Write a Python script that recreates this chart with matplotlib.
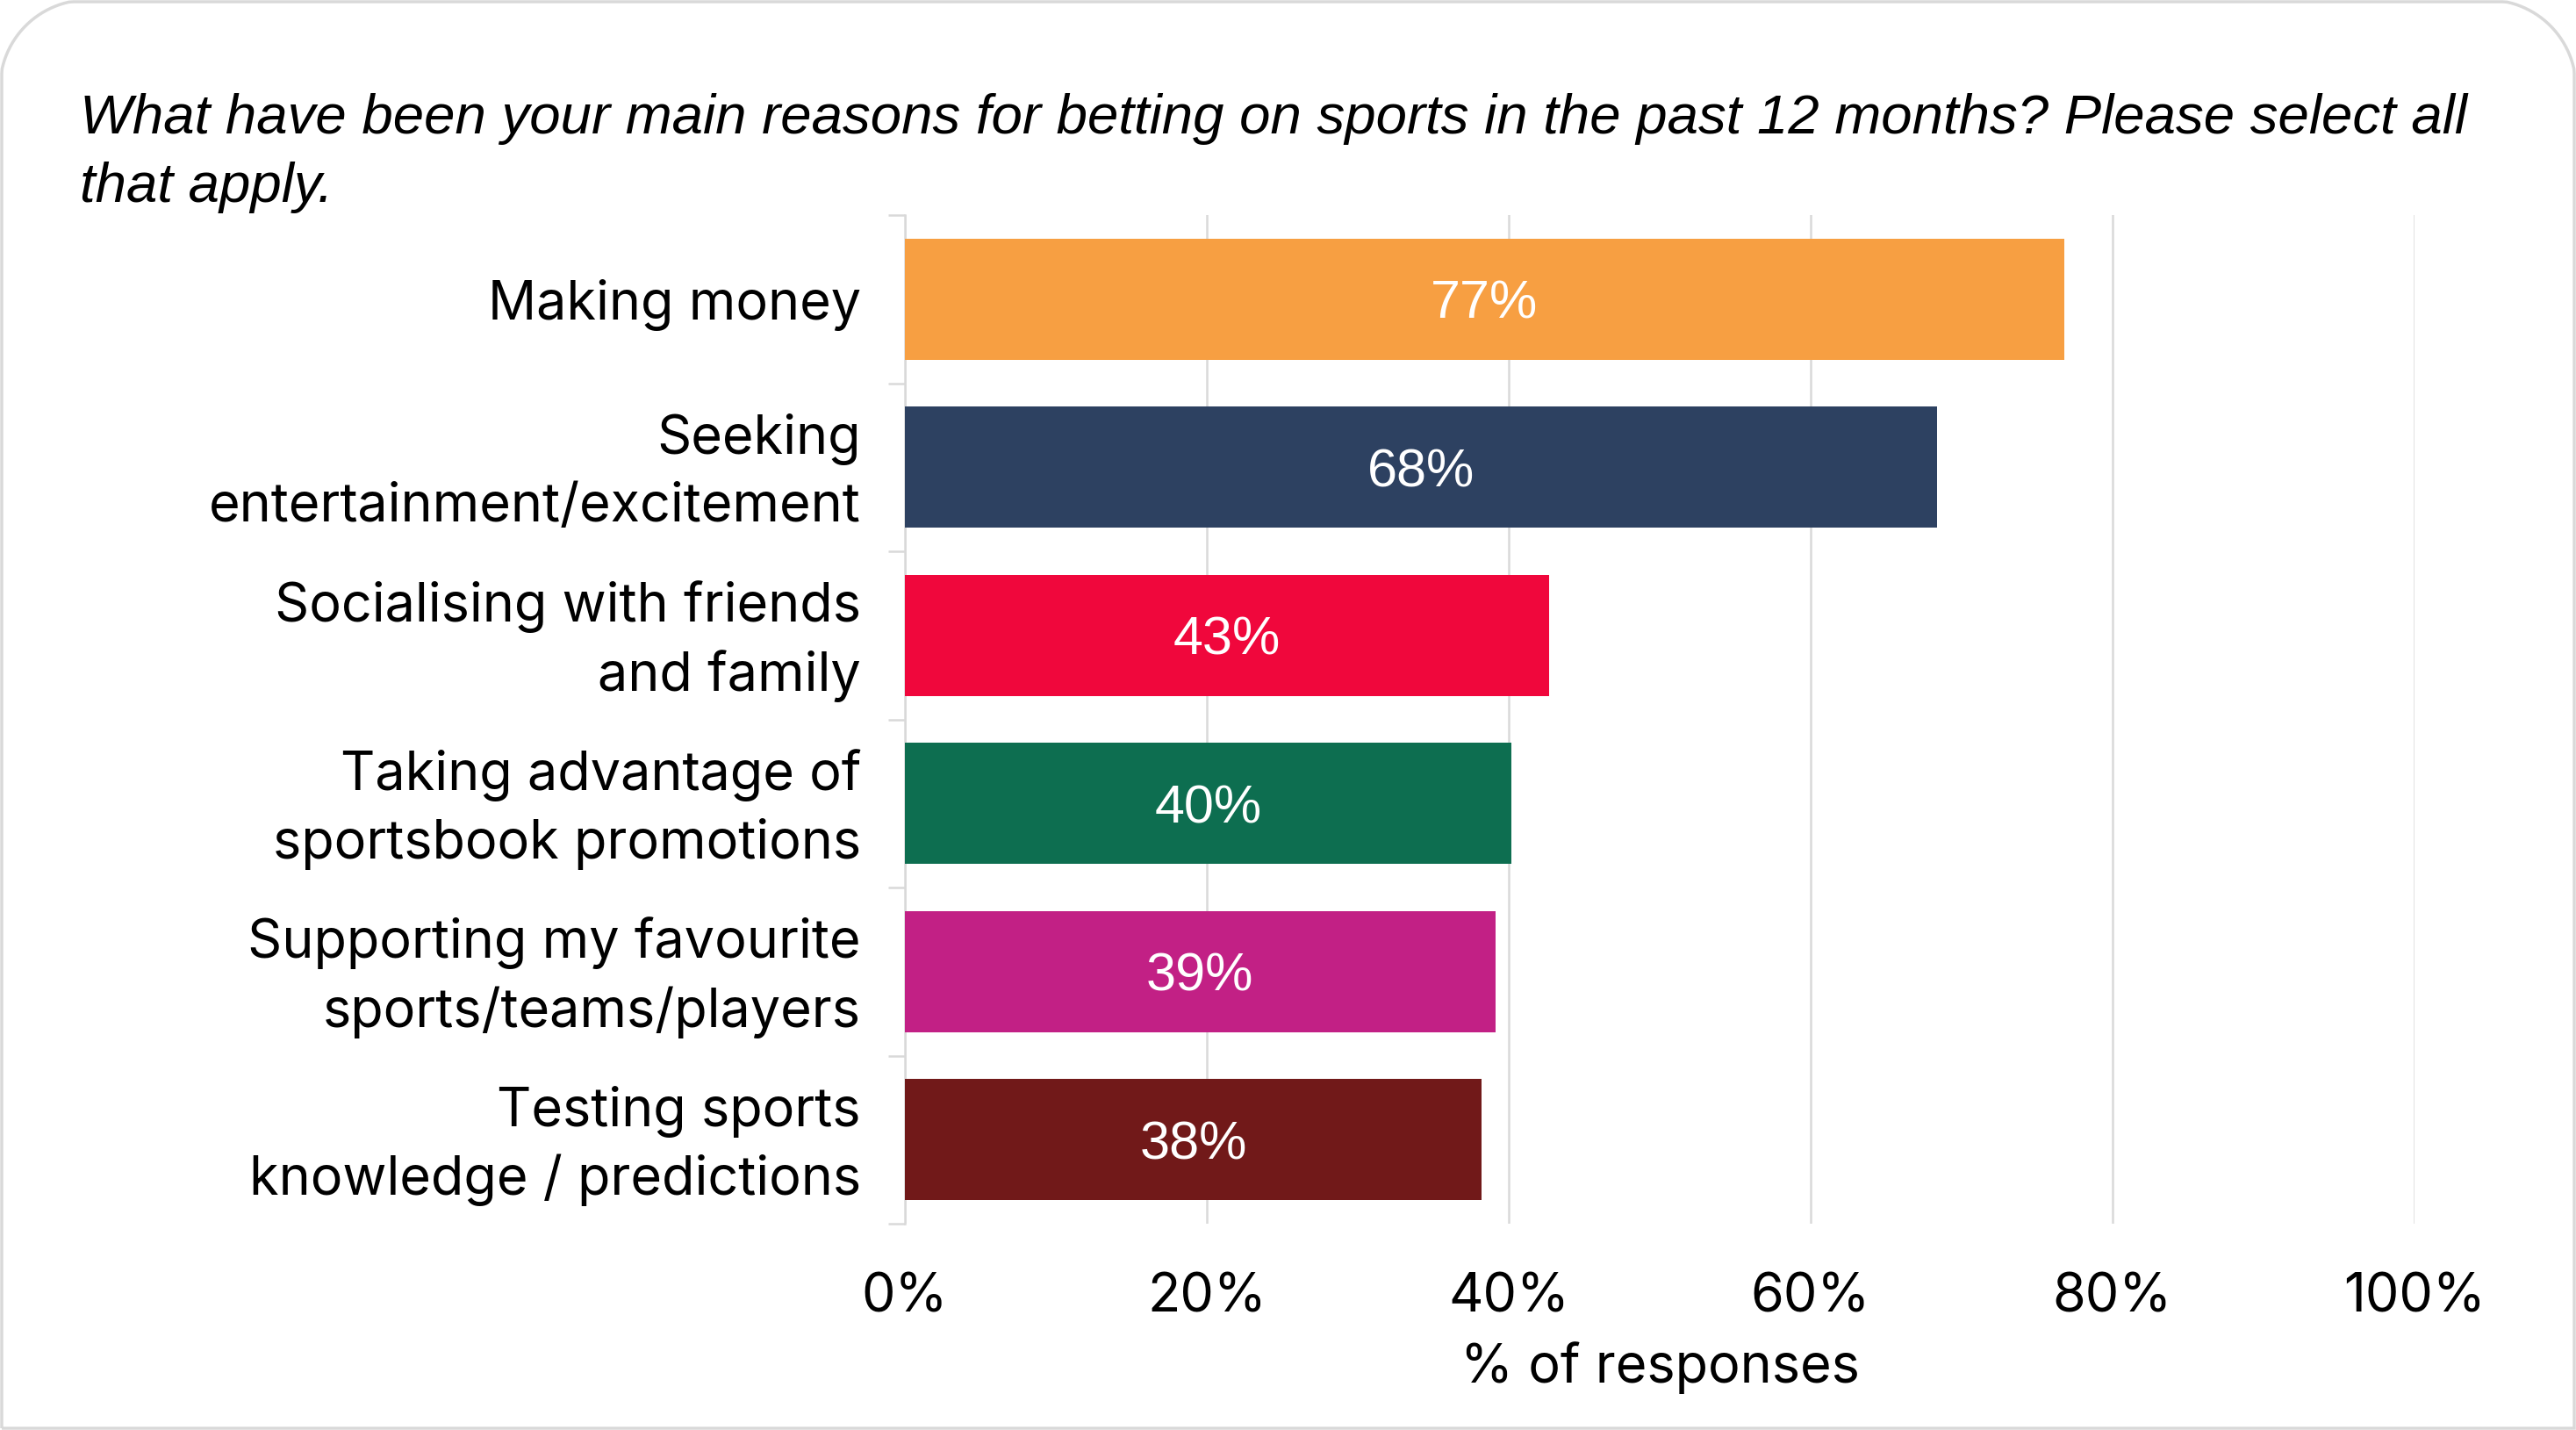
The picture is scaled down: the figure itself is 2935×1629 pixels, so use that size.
import numpy as np
import matplotlib.pyplot as plt
import matplotlib.transforms as mtransforms
from matplotlib.patches import PathPatch
from matplotlib.path import Path

# Datos
categories = [
    "Making money",
    "Seeking\nentertainment/excitement",
    "Socialising with friends\nand family",
    "Taking advantage of\nsportsbook promotions",
    "Supporting my favourite\nsports/teams/players",
    "Testing sports\nknowledge / predictions",
]
values = [76.8, 68.4, 42.7, 40.2, 39.1, 38.2]
colors = ["#F79F42", "#2D4161", "#F0073C", "#0D6E50", "#C22085", "#711919"]
x_ticks = [0, 20, 40, 60, 80, 100]
title = ("What have been your main reasons for betting on sports in the past 12 months? Please select all\n"
         "that apply.")

plt.rcParams['font.family'] = ['Inter', 'Liberation Sans', 'DejaVu Sans']
grey = "#d9d9d9"
W, H = 2935, 1629

fig = plt.figure(figsize=(W / 100, H / 100), dpi=100)
ax = fig.add_axes([1031 / W, 1 - 1394 / H, (2751 - 1031) / W, (1394 - 245) / H])

y = np.arange(len(categories))
bars = ax.barh(y, values, height=0.72, color=colors, zorder=3)
for b, v in zip(bars, values):
    ax.text(b.get_width() / 2, b.get_y() + b.get_height() / 2, f"{v:.0f}%",
            ha="center", va="center_baseline", color="white", fontsize=44,
            family=["Liberation Sans"], zorder=4)

ax.set_xlim(0, 100)
ax.set_ylim(len(categories) - 0.5, -0.5)
ax.set_yticks(y)
ax.set_yticklabels(categories, fontsize=44, linespacing=1.41)
ax.set_yticks(np.arange(-0.5, len(categories)), minor=True)
ax.tick_params(axis="y", which="major", length=0, pad=36)
ax.tick_params(axis="y", which="minor", length=14, width=1.8, color=grey)
# subir un poco las etiquetas de dos lineas
shift = mtransforms.ScaledTranslation(0, 9 / 100, fig.dpi_scale_trans)
for lab in ax.get_yticklabels():
    if "\n" in lab.get_text():
        lab.set_transform(lab.get_transform() + shift)
ax.set_xticks(x_ticks)
ax.set_xticklabels([f"{t}%" for t in x_ticks], fontsize=44)
ax.tick_params(axis="x", length=0, pad=40)
ax.grid(axis="x", color=grey, linewidth=1.8, zorder=0)
for s in ["top", "right", "bottom"]:
    ax.spines[s].set_visible(False)
ax.spines["left"].set_color(grey)
ax.spines["left"].set_linewidth(1.8)
ax.set_xlabel("% of responses", fontsize=44, labelpad=15)

fig.text(91 / W, 1 - 106 / H, title, fontsize=45.7, fontstyle="italic",
         family=["Liberation Sans"], ha="left", va="top", linespacing=1.41)

# marco con esquinas superiores redondeadas
r, i = 100, 2
t = np.linspace(0, np.pi / 2, 30)
left_arc = np.column_stack([r - r * np.cos(t), H - r + r * np.sin(t)])
right_arc = np.column_stack([W - r + r * np.sin(t), H - r + r * np.cos(t)])
pts = np.vstack([[i, i], left_arc, right_arc, [W - i, i], [i, i]])
pts[:, 0] = np.clip(pts[:, 0], i, W - i)
pts[:, 1] = np.clip(pts[:, 1], i, H - i)
pts = pts / [W, H]
frame = PathPatch(Path(pts), transform=fig.transFigure, fill=False,
                  edgecolor=grey, linewidth=2.5)
fig.add_artist(frame)

fig.savefig("out.png", dpi=100, facecolor="white")
